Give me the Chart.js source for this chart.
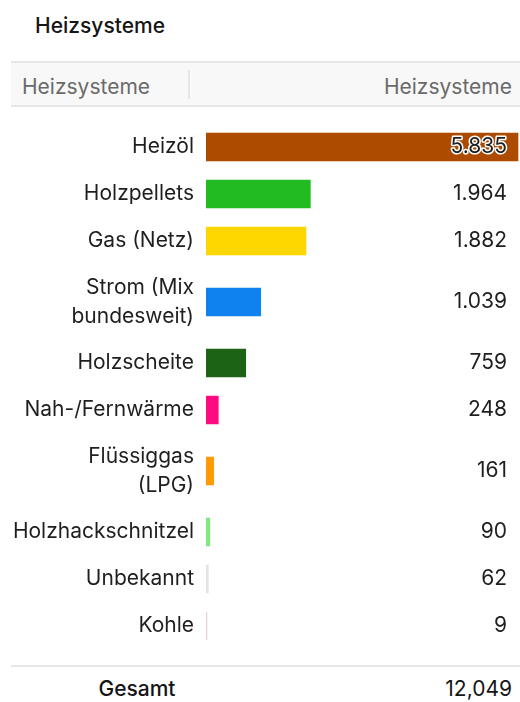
<!DOCTYPE html>
<html>
<head>
<meta charset="utf-8">
<script src="https://cdn.jsdelivr.net/npm/chart.js@4.4.1/dist/chart.umd.min.js"></script>
<style>
    body { margin: 0; width: 520px; height: 702px; background: #fff; font-family: Inter, sans-serif; position: relative; overflow: hidden; }
    .title { position: absolute; left: 35px; top: 13px; font-size: 21px; font-weight: 500; color: #151515; }
    .head { position: absolute; left: 11px; right: 0; top: 61px; height: 42px; line-height: 48px; background: #f8f8f8;
            border-top: 2px solid #e6e6e6; border-bottom: 2px solid #e6e6e6; color: #6a6a6a; font-size: 21px; }
    .head .l { position: absolute; left: 11px; }
    .head .r { position: absolute; right: 8px; }
    .head .sep { position: absolute; left: 177px; top: 7px; width: 2px; height: 29px; background: #e6e6e6; }
    #wrap { position: absolute; left: 0; top: 108px; width: 520px; height: 552px; }
    .foot-line { position: absolute; left: 11px; right: 0; top: 665px; height: 2px; background: #e6e6e6; }
    .foot { position: absolute; top: 676px; font-size: 21px; color: #151515; }
    .foot.l { left: 0; width: 274px; text-align: center; font-weight: 500; }
    .foot.r { right: 8px; }
</style>
</head>
<body>
<div class="title">Heizsysteme</div>
<div class="head"><span class="l">Heizsysteme</span><span class="sep"></span><span class="r">Heizsysteme</span></div>
<div id="wrap"><canvas id="heatChart" width="520" height="552"></canvas></div>
<div class="foot-line"></div>
<div class="foot l">Gesamt</div>
<div class="foot r" id="total"></div>

<script>
const categories = [
    'Heizöl',
    'Holzpellets',
    'Gas (Netz)',
    ['Strom (Mix', 'bundesweit)'],
    'Holzscheite',
    'Nah-/Fernwärme',
    ['Flüssiggas', '(LPG)'],
    'Holzhackschnitzel',
    'Unbekannt',
    'Kohle'
];
const values = [5835, 1964, 1882, 1039, 759, 248, 161, 90, 62, 9];
const colors = ['#ad4b01', '#22bb22', '#ffd700', '#1082f0', '#1c6316', '#ff0a80', '#ff9a00', '#80e880', '#e4e4e4', '#e8d4d8'];

// rows with two-line labels are taller, like in the table
const rowHeight = 47, lineExtra = 28;
const heights = categories.map(c => rowHeight + (Array.isArray(c) ? (c.length - 1) * lineExtra : 0));
const centers = [];
let acc = 0;
heights.forEach(h => { centers.push(acc + h / 2); acc += h; });
const totalHeight = acc;

function fmtDE(n) { return String(n).replace(/\B(?=(\d{3})+(?!\d))/g, '.'); }
function fmtEN(n) { return String(n).replace(/\B(?=(\d{3})+(?!\d))/g, ','); }

document.getElementById('total').textContent = fmtEN(values.reduce((a, b) => a + b, 0));

const valueLabels = {
    id: 'valueLabels',
    afterDatasetsDraw(chart) {
        const { ctx, chartArea } = chart;
        const meta = chart.getDatasetMeta(0);
        ctx.save();
        ctx.font = '21px Inter';
        ctx.textAlign = 'right';
        ctx.textBaseline = 'middle';
        meta.data.forEach((bar, i) => {
            const text = fmtDE(values[i]);
            const x = chartArea.right - 12;
            if (bar.x > x - ctx.measureText(text).width) {
                ctx.lineWidth = 3;
                ctx.lineJoin = 'round';
                ctx.strokeStyle = '#fff';
                ctx.strokeText(text, x, bar.y);
            }
            ctx.fillStyle = '#1f1f1f';
            ctx.fillText(text, x, bar.y);
        });
        ctx.restore();
    }
};

const data = {
    datasets: [{
        data: values.map((v, i) => ({ x: v, y: centers[i] })),
        backgroundColor: colors,
        borderColor: 'rgba(255, 255, 255, 0.35)',
        borderWidth: 1,
        barThickness: 30,
        minBarLength: 2
    }]
};

const config = {
    type: 'bar',
    data: data,
    options: {
        indexAxis: 'y',
        responsive: false,
        animation: false,
        layout: { padding: { top: 15.5, bottom: 10.5, left: 0, right: 1 } },
        plugins: { legend: { display: false }, tooltip: { enabled: false } },
        scales: {
            x: { display: false, min: 0, max: Math.max(...values) },
            y: {
                type: 'linear',
                reverse: true,
                offset: false,
                min: 0,
                max: totalHeight,
                border: { display: false },
                grid: { display: false, drawTicks: false, offset: false },
                afterBuildTicks: scale => { scale.ticks = centers.map(v => ({ value: v })); },
                afterFit: scale => {
                    scale.width = 206;
                    scale.paddingTop = 0;
                    scale.paddingBottom = 0;
                },
                ticks: {
                    autoSkip: false,
                    padding: 12,
                    color: '#1f1f1f',
                    font: { family: 'Inter', size: 21, lineHeight: 1.38 },
                    callback: (v, i) => categories[i]
                }
            }
        }
    },
    plugins: [valueLabels]
};

window.heatChart = new Chart(document.getElementById('heatChart'), config);
</script>
</body>
</html>
